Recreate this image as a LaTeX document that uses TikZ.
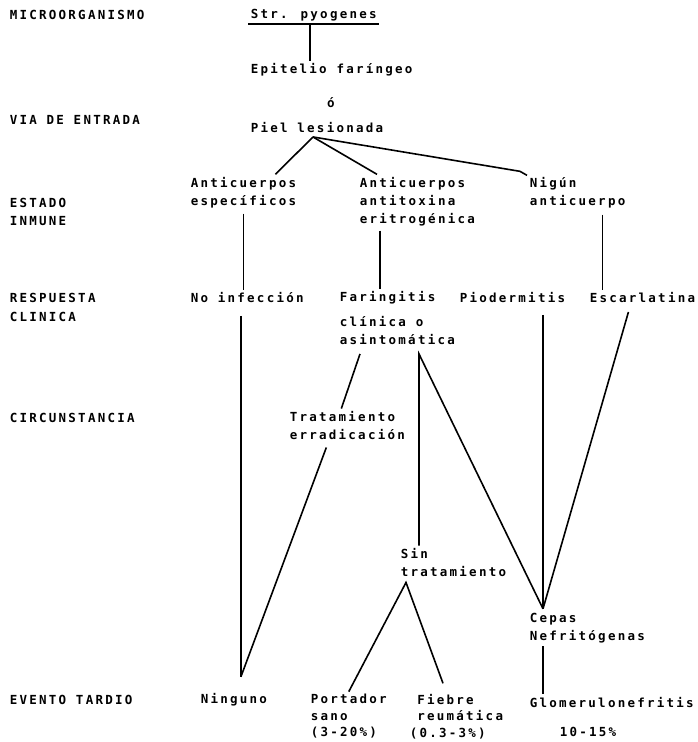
\documentclass[tikz,border=0pt]{standalone}
\usepackage{fontspec}
\usetikzlibrary{positioning}
\newfontfamily\typew[LetterSpace=18]{DejaVu Sans Mono}

\begin{document}
\begin{tikzpicture}[x=1pt, y=-1pt, line width=1.6pt,
  lbl/.style={font=\typew\bfseries\fontsize{12.5}{18}\selectfont, inner sep=2pt, align=left, anchor=west},
  tight/.style={font=\typew\bfseries\fontsize{12.5}{16.5}\selectfont}]
 \useasboundingbox (0,0) rectangle (697,742);

 % row labels
 \node[lbl] (mic) at (7,15) {MICROORGANISMO};
 \node[lbl] (via) at (7,120) {VIA DE ENTRADA};
 \node[lbl] (est) at (7,212) {ESTADO\\INMUNE};
 \node[lbl] (res) at (7,298) {RESPUESTA};
 \node[lbl] (cli) at (7,317) {CLINICA};
 \node[lbl] (cir) at (7,418) {CIRCUNSTANCIA};
 \node[lbl] (eve) at (7,700) {EVENTO TARDIO};

 % entry
 \node[lbl] (pyo) at (248,15) {Str. pyogenes};
 \node[lbl] (epi) at (248,70) {Epitelio faríngeo};
 \node[lbl, anchor=center] (o) at (331,103) {ó};
 \node[lbl] (piel) at (248,128) {Piel lesionada};

 % immune state
 \node[lbl] (esp) at (188,192.5) {Anticuerpos\\específicos};
 \node[lbl] (atx) at (357,201.5) {Anticuerpos\\antitoxina\\eritrogénica};
 \node[lbl] (nig) at (527,192.5) {Nigún\\anticuerpo};

 % clinical response
 \node[lbl] (noinf) at (188,298) {No infección};
 \node[lbl] (far) at (337,298) {Faringitis};
 \node[lbl] (pio) at (457,298) {Piodermitis};
 \node[lbl] (esc) at (587,298) {Escarlatina};
 \node[lbl] (cla) at (337,331) {clínica o\\asintomática};

 % circumstance
 \node[lbl] (tra) at (287,425.5) {Tratamiento\\erradicación};
 \node[lbl] (sin) at (398,562.5) {Sin\\tratamiento};
 \node[lbl] (cep) at (527,628.5) {Cepas\\Nefritógenas};

 % late event
 \node[lbl] (ning) at (198,700) {Ninguno};
 \node[lbl, tight] (por) at (308,716.5) {Portador\\sano\\(3-20\%)};
 \node[lbl, tight] (fie) at (407,716.5) {\hphantom{(}Fiebre\\\hphantom{(}reumática\\(0.3-3\%)};
 \node[lbl] (glo) at (527,702) {Glomerulonefritis};
 \node[lbl] (pct) at (557,732) {10-15\%};

 \coordinate (jP) at ([xshift=-4pt,yshift=-1pt]piel.south);
 \coordinate (jC) at ([xshift=82pt,yshift=-6pt]cla.south west);
 \coordinate (jS) at ([xshift=8pt,yshift=-3pt]sin.south west);
 \coordinate (apN) at ([xshift=7pt,yshift=14pt]ning.north);
 \coordinate (apC) at ([xshift=16pt,yshift=2pt]cep.north west);

 \draw (pyo.south west) -- (pyo.south east);
 \draw ([xshift=-4pt]pyo.south) -- ([xshift=-4pt]pyo.south |- epi.north);

 \draw (jP) -- ([xshift=32pt]esp.north);
 \draw (jP) -- ([xshift=20pt]atx.north west);
 \draw (jP) -- ([xshift=-7pt,yshift=3pt]nig.north west) -- ([yshift=-1pt]nig.north west);

 \draw ([yshift=-3pt]esp.south) -- (esp.south |- noinf.north);
 \draw ([xshift=23pt,yshift=-2pt]atx.south west) -- ([xshift=23pt]atx.south west |- far.north);
 \draw ([xshift=25pt,yshift=-4pt]nig.south) -- ([xshift=25pt]nig.south |- esc.north);

 \draw ([yshift=-10pt]apN |- noinf.south) -- (apN);
 \draw ([xshift=23pt,yshift=-6pt]cla.south west) -- ([xshift=-6pt]tra.north);
 \draw ([xshift=-21pt,yshift=-5pt]tra.south) -- (apN);
 \draw (jC |- sin.north) -- (jC) -- (apC);
 \draw ([yshift=-9pt]apC |- pio.south) -- (apC);
 \draw ([xshift=-14pt,yshift=-6pt]esc.south) -- (apC);
 \draw (apC |- cep.south) -- (apC |- glo.north);
 \draw (por.north) -- (jS) -- ([xshift=36pt,yshift=8pt]fie.north west);
\end{tikzpicture}
\end{document}
